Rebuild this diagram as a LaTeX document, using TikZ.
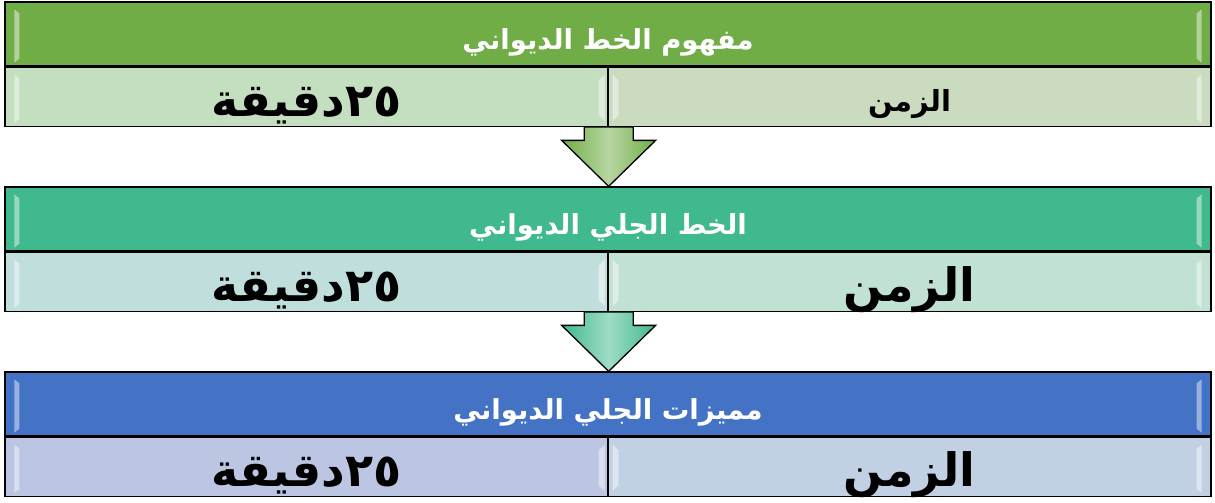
\documentclass[tikz,border=0pt]{standalone}
\usepackage{fontspec}
\newfontfamily\arabicfont[Script=Arabic]{DejaVu Sans}
\TeXXeTstate=1
\usetikzlibrary{positioning,calc}
\definecolor{grnhdr}{HTML}{70AD47}
\definecolor{grncellA}{HTML}{C4DEC0}
\definecolor{grncellB}{HTML}{CBDBBF}
\definecolor{teahdr}{HTML}{40B98C}
\definecolor{teacellA}{HTML}{C0DFDC}
\definecolor{teacellB}{HTML}{C1E1D3}
\definecolor{bluhdr}{HTML}{4472C4}
\definecolor{blucellA}{HTML}{BCC6E3}
\definecolor{blucellB}{HTML}{C2D0E3}
\newcommand{\artxt}[2][0.42em]{\raisebox{-#1}[0pt][0pt]{\beginR #2\endR}}
\begin{document}
\begin{tikzpicture}[x=1pt,y=-1pt,
  hdr/.style={draw=black,line width=1.3pt,minimum width=1206pt,minimum height=64pt,
    inner sep=0pt,text=white,font=\arabicfont\bfseries\fontsize{27.5}{30}\selectfont},
  cellbox/.style={draw=black,line width=1.3pt,minimum width=603pt,minimum height=59pt,
    inner sep=0pt,text=black,font=\arabicfont\bfseries\fontsize{46}{50}\selectfont},
  shine/.style={fill=white,opacity=0.45},
  downarrow/.style={draw=black,line width=1.3pt,left color=#1,right color=#1,middle color=#1!50!white,shading angle=90}]
\useasboundingbox (0,0) rectangle (1215,503);
\node[hdr,fill=grnhdr] (h1) at (608,34) {\artxt[0.55em]{مفهوم الخط الديواني}};
\node[cellbox,fill=grncellA,below right=0pt of h1.south west] (c1l) {\artxt{٢٥دقيقة}};
\node[cellbox,fill=grncellB,below left=0pt of h1.south east,font=\arabicfont\bfseries\fontsize{29}{32}\selectfont] (c1r) {\artxt[0.5em]{الزمن}};
\node[hdr,fill=teahdr] (h2) at (608,219) {\artxt[0.55em]{الخط الجلي الديواني}};
\node[cellbox,fill=teacellA,below right=0pt of h2.south west] (c2l) {\artxt{٢٥دقيقة}};
\node[cellbox,fill=teacellB,below left=0pt of h2.south east] (c2r) {\artxt{الزمن}};
\node[hdr,fill=bluhdr] (h3) at (608,404) {\artxt[0.55em]{مميزات الجلي الديواني}};
\node[cellbox,fill=blucellA,below right=0pt of h3.south west] (c3l) {\artxt{٢٥دقيقة}};
\node[cellbox,fill=blucellB,below left=0pt of h3.south east] (c3r) {\artxt{الزمن}};
\foreach \n in {h1,c1l,h2,c2l,h3,c3l}{
  \fill[shine] ($(\n.north west)+(10,8)$) -- ($(\n.north west)+(15,12)$) -- ($(\n.south west)+(15,-8)$) -- ($(\n.south west)+(10,-4)$) -- cycle;
}
\foreach \n in {h1,c1r,h2,c2r,h3,c3r}{
  \fill[shine] ($(\n.north east)+(-10,8)$) -- ($(\n.north east)+(-15,12)$) -- ($(\n.south east)+(-15,-8)$) -- ($(\n.south east)+(-10,-4)$) -- cycle;
}
\foreach \n in {c1l,c2l,c3l}{
  \fill[shine] ($(\n.north east)+(-4,8)$) -- ($(\n.north east)+(-10,14)$) -- ($(\n.south east)+(-10,-12)$) -- ($(\n.south east)+(-4,-6)$) -- cycle;
  \fill[shine] ($(\n.north east)+(4,8)$) -- ($(\n.north east)+(10,14)$) -- ($(\n.south east)+(10,-12)$) -- ($(\n.south east)+(4,-6)$) -- cycle;
}
\path (c1l.south east) coordinate (t1) (h2.north -| t1) coordinate (b1);
\path (c2l.south east) coordinate (t2) (h3.north -| t2) coordinate (b2);
\draw[downarrow=grnhdr] ($(t1)+(-24.5,0)$) -- ($(b1)+(-24.5,-46)$) -- ($(b1)+(-47,-46)$) -- (b1)
  -- ($(b1)+(47,-46)$) -- ($(b1)+(24.5,-46)$) -- ($(t1)+(24.5,0)$) -- cycle;
\draw[downarrow=teahdr] ($(t2)+(-24.5,0)$) -- ($(b2)+(-24.5,-46)$) -- ($(b2)+(-47,-46)$) -- (b2)
  -- ($(b2)+(47,-46)$) -- ($(b2)+(24.5,-46)$) -- ($(t2)+(24.5,0)$) -- cycle;
\end{tikzpicture}
\end{document}
